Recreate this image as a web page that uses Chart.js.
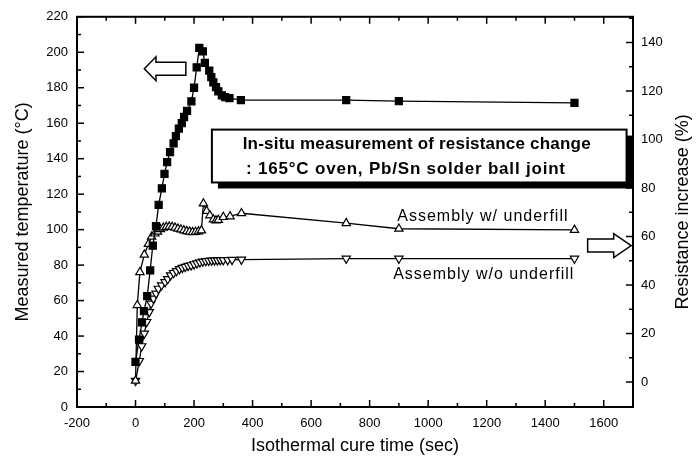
<!DOCTYPE html>
<html>
<head>
<meta charset="utf-8">
<script src="https://cdn.jsdelivr.net/npm/chart.js@4.4.0/dist/chart.umd.min.js"></script>
<style>
  html, body { margin: 0; padding: 0; background: #fff; }
  #wrap { width: 696px; height: 460px; }
</style>
</head>
<body>
<div id="wrap"><canvas id="cureChart" width="696" height="460"></canvas></div>
<script>
// temperature of the oven (left axis, squares)
const tempTimes  = [0, 12, 22, 29, 40, 50, 59, 70, 79, 90, 99, 108, 118, 130, 138, 148, 158, 166, 176, 191, 200, 209, 218, 230, 237, 252, 259, 266, 275, 283, 295, 306, 321, 360, 720, 900, 1500];
const tempValues = [25.4, 38, 47.7, 54, 62.5, 77, 91, 102, 114, 123.3, 131.5, 138, 143.7, 148.6, 152.7, 157, 160, 163.5, 167, 172.3, 180, 191.5, 202.5, 200.5, 194, 189.7, 186, 183, 180.3, 178, 175.7, 174.7, 174.2, 173, 173, 172.5, 171.5];

// resistance increase, assembly with underfill (right axis, up triangles)
const withTimes  = [0, 6, 15, 30, 44, 55, 66, 75, 85, 95, 105, 115, 125, 135, 145, 155, 165, 175, 185, 195, 205, 215, 225, 232, 243, 254, 266, 275, 283, 300, 323, 362, 720, 900, 1500];
const withValues = [0.5, 31.7, 45.3, 52.5, 56.9, 59.9, 61.2, 62, 63, 63.6, 63.9, 64, 63.9, 63.6, 63.2, 62.9, 62.5, 62.2, 62, 61.8, 61.9, 62.1, 62.5, 73.6, 70.5, 68.7, 67, 66.6, 66.8, 68, 68.3, 69.6, 65.5, 63.2, 62.7];

// resistance increase, assembly without underfill (right axis, down triangles)
const withoutTimes  = [0, 13, 21, 30, 38, 47, 53, 61, 70, 78, 89, 101, 110, 120, 130, 140, 150, 160, 170, 180, 190, 200, 210, 220, 230, 240, 250, 260, 270, 280, 290, 300, 315, 330, 362, 720, 900, 1500];
const withoutValues = [0.5, 8.7, 14.8, 20, 24.8, 28.9, 32.4, 34.4, 36.5, 38.5, 39.9, 41.2, 42.5, 44, 45, 45.8, 46.6, 47.1, 47.5, 47.9, 48.2, 48.6, 49, 49.4, 49.7, 49.9, 50, 50.1, 50.2, 50.2, 50.3, 50.3, 50.3, 50.4, 50.5, 50.9, 50.9, 50.9];

const xTicks     = [-200, 0, 200, 400, 600, 800, 1000, 1200, 1400, 1600];
const leftTicks  = [0, 20, 40, 60, 80, 100, 120, 140, 160, 180, 200, 220];
const rightTicks = [0, 20, 40, 60, 80, 100, 120, 140];

const toPoints = (xs, ys) => xs.map((t, i) => ({ x: t, y: ys[i] }));
const FONT = '"Liberation Sans", Arial, sans-serif';

// inward tick marks + frame
const axisDecor = {
  id: 'axisDecor',
  afterDraw(chart) {
    const { ctx, chartArea: a, scales } = chart;
    const x = scales.x, yL = scales.y, yR = scales.y1;
    ctx.save();
    ctx.strokeStyle = '#000';
    ctx.lineWidth = 1.5;
    const seg = (x1, y1, x2, y2) => { ctx.beginPath(); ctx.moveTo(x1, y1); ctx.lineTo(x2, y2); ctx.stroke(); };
    for (let v = -200; v <= 1700; v += 100) {
      const p = x.getPixelForValue(v);
      const len = v % 200 === 0 ? 7 : 4;
      seg(p, a.bottom, p, a.bottom - len);
      seg(p, a.top, p, a.top + len);
    }
    for (let v = 0; v <= 220; v += 10) {
      const p = yL.getPixelForValue(v);
      seg(a.left, p, a.left + (v % 20 === 0 ? 7 : 4), p);
    }
    for (let v = 0; v <= yR.max; v += 10) {
      const p = yR.getPixelForValue(v);
      seg(a.right, p, a.right - (v % 20 === 0 ? 7 : 4), p);
    }
    ctx.lineWidth = 2;
    ctx.strokeRect(a.left, a.top, a.right - a.left, a.bottom - a.top);

    // right axis title, reads bottom to top
    ctx.fillStyle = '#000';
    ctx.font = '18px ' + FONT;
    ctx.textAlign = 'center';
    ctx.textBaseline = 'middle';
    ctx.translate(683, (a.top + a.bottom) / 2);
    ctx.rotate(-Math.PI / 2);
    ctx.fillText('Resistance increase (%)', 0, 0);
    ctx.restore();
  }
};

// text box, series labels and the two hollow arrows
const notes = {
  id: 'notes',
  afterDraw(chart) {
    const { ctx, scales: { x, y } } = chart;
    const px = v => x.getPixelForValue(v), py = v => y.getPixelForValue(v);
    ctx.save();
    ctx.strokeStyle = '#000';
    ctx.fillStyle = '#000';

    // box with drop shadow
    const bx = px(261), by = py(156.4), bw = px(1678) - bx, bh = py(126.6) - by;
    ctx.fillRect(bx + 6, by + 6, bw, bh);
    ctx.fillStyle = '#fff';
    ctx.fillRect(bx, by, bw, bh);
    ctx.lineWidth = 2;
    ctx.strokeRect(bx, by, bw, bh);
    ctx.fillStyle = '#000';
    ctx.font = 'bold 17px ' + FONT;
    ctx.textAlign = 'center';
    ctx.textBaseline = 'middle';
    ctx.letterSpacing = '0.2px';
    ctx.fillText('In-situ measurement of resistance change', px(961), py(148));
    ctx.letterSpacing = '0.8px';
    ctx.fillText(': 165\u00b0C oven, Pb/Sn solder ball joint', px(924), py(134.2));

    ctx.font = '16px ' + FONT;
    ctx.letterSpacing = '1px';
    ctx.fillText('Assembly w/ underfill', px(1187), py(107.5));
    ctx.fillText('Assembly w/o underfill', px(1190), py(74.8));
    ctx.letterSpacing = '0px';

    const arrow = (tip, base, tail, cy) => {
      ctx.beginPath();
      ctx.moveTo(tip, cy);
      ctx.lineTo(base, cy - 12);
      ctx.lineTo(base, cy - 6.5);
      ctx.lineTo(tail, cy - 6.5);
      ctx.lineTo(tail, cy + 6.5);
      ctx.lineTo(base, cy + 6.5);
      ctx.lineTo(base, cy + 12);
      ctx.closePath();
      ctx.fillStyle = '#fff';
      ctx.fill();
      ctx.lineWidth = 1.5;
      ctx.stroke();
    };
    arrow(px(30), px(70), px(172), py(190.7));
    arrow(px(1694), px(1634), px(1545), py(91));
    ctx.restore();
  }
};

const lineStyle = {
  borderColor: '#000',
  borderWidth: 1.3,
  pointBorderColor: '#000',
  pointBorderWidth: 1.2,
  tension: 0,
  fill: false
};

new Chart(document.getElementById('cureChart'), {
  type: 'scatter',
  data: {
    datasets: [
      Object.assign({ label: 'Temperature', data: toPoints(tempTimes, tempValues), yAxisID: 'y', showLine: true,
        pointStyle: 'rect', pointRadius: 5, pointBackgroundColor: '#000' }, lineStyle),
      Object.assign({ label: 'Assembly w/ underfill', data: toPoints(withTimes, withValues), yAxisID: 'y1', showLine: true,
        pointStyle: 'triangle', pointRadius: 4.8, pointBackgroundColor: '#fff' }, lineStyle),
      Object.assign({ label: 'Assembly w/o underfill', data: toPoints(withoutTimes, withoutValues), yAxisID: 'y1', showLine: true,
        pointStyle: 'triangle', pointRotation: 180, pointRadius: 4.8, pointBackgroundColor: '#fff' }, lineStyle)
    ]
  },
  options: {
    responsive: false,
    animation: false,
    devicePixelRatio: 1,
    layout: { padding: { top: 16, left: 0, right: 0, bottom: 0 } },
    plugins: { legend: { display: false }, tooltip: { enabled: false } },
    scales: {
      x: {
        type: 'linear', min: -200, max: 1700,
        grid: { display: false, drawTicks: false }, border: { display: false },
        afterBuildTicks: s => { s.ticks = xTicks.map(v => ({ value: v })); },
        afterFit: s => { s.height = 53; },
        ticks: { color: '#000', padding: 9, font: { size: 13, family: FONT }, callback: v => String(v), maxRotation: 0 },
        title: { display: true, text: 'Isothermal cure time (sec)', color: '#000', font: { size: 18, family: FONT }, padding: { top: 0, bottom: 3 } }
      },
      y: {
        type: 'linear', position: 'left', min: 0, max: 220,
        grid: { display: false, drawTicks: false }, border: { display: false },
        afterBuildTicks: s => { s.ticks = leftTicks.map(v => ({ value: v })); },
        afterFit: s => { s.width = 77; },
        ticks: { color: '#000', padding: 9, font: { size: 13, family: FONT }, callback: v => String(v) },
        title: { display: true, text: 'Measured temperature (\u00b0C)', color: '#000', font: { size: 18, family: FONT }, padding: { top: 12, bottom: 0 } }
      },
      y1: {
        type: 'linear', position: 'right', min: -10.3, max: 150.6,
        grid: { display: false, drawTicks: false }, border: { display: false },
        afterBuildTicks: s => { s.ticks = rightTicks.map(v => ({ value: v })); },
        afterFit: s => { s.width = 63; },
        ticks: { color: '#000', padding: 8, font: { size: 13, family: FONT }, callback: v => String(v) }
      }
    }
  },
  plugins: [axisDecor, notes]
});
</script>
</body>
</html>
